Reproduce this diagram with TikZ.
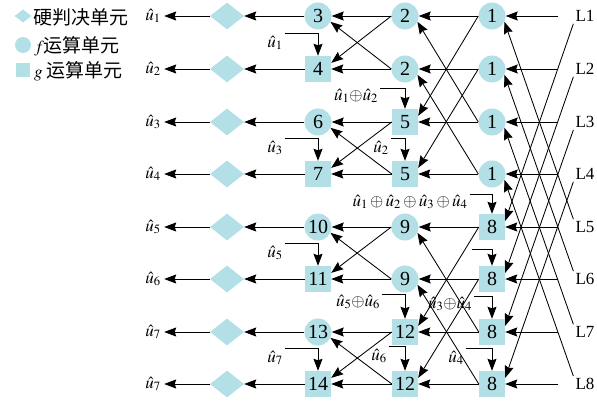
\documentclass[tikz,border=0pt]{standalone}
\usepackage{mathptmx}
\usepackage{fontspec}
\setmainfont{Liberation Serif}
\newfontfamily\cjk{Noto Sans CJK SC}
\usetikzlibrary{shapes.geometric,arrows.meta}

\definecolor{unitFill}{RGB}{178,224,230}

\begin{document}
\begin{tikzpicture}[
    x=1pt, y=-1pt,
    font=\fontsize{17pt}{19pt}\selectfont,
    >={Stealth[length=12pt,width=9pt,inset=1.5pt]},
    hardUnit/.style={
        diamond,
        fill=unitFill,
        inner sep=0pt,
        minimum width=34pt,
        minimum height=27pt
    },
    fUnit/.style={
        circle,
        fill=unitFill,
        inner sep=0pt,
        minimum size=27pt,
        font=\fontsize{20pt}{22pt}\selectfont
    },
    gUnit/.style={
        rectangle,
        fill=unitFill,
        inner sep=0pt,
        minimum size=26pt,
        font=\fontsize{20pt}{22pt}\selectfont
    },
    flowLine/.style={
        line width=0.85pt,
        draw=black,
        ->
    },
    fbLabel/.style={
        inner sep=2pt
    },
    inLabel/.style={
        inner sep=2pt
    }
]
\useasboundingbox (0,0) rectangle (597,401);

% ==================== LEGEND ====================
\node[hardUnit, minimum width=17pt, minimum height=13pt] (legHard) at (23,16) {};
\node[anchor=west, inner sep=0pt, font=\cjk\fontsize{19pt}{21pt}\selectfont] (legHardText) at (33,17) {硬判决单元};
\node[fUnit, minimum size=16pt] (legF) at (23,45) {};
\node[anchor=west, inner sep=0pt] (legFText) at (34,46) {$f$\cjk\fontsize{19pt}{21pt}\selectfont 运算单元};
\node[gUnit, minimum size=14pt] (legG) at (23,70) {};
\node[anchor=west, inner sep=0pt] (legGText) at (34,71) {$g$ \cjk\fontsize{19pt}{21pt}\selectfont 运算单元};

% ==================== OUTPUTS & HARD DECISION ====================
\node (outLabel1) at (153,16) {$\hat{u}_1$};
\node (outLabel2) at (153,69) {$\hat{u}_2$};
\node (outLabel3) at (153,122) {$\hat{u}_3$};
\node (outLabel4) at (153,174) {$\hat{u}_4$};
\node (outLabel5) at (153,227) {$\hat{u}_5$};
\node (outLabel6) at (153,279) {$\hat{u}_6$};
\node (outLabel7) at (153,332) {$\hat{u}_7$};
\node (outLabel8) at (153,384) {$\hat{u}_7$};

\node[hardUnit] (hardDec1) at (227,16) {};
\node[hardUnit] (hardDec2) at (227,69) {};
\node[hardUnit] (hardDec3) at (227,122) {};
\node[hardUnit] (hardDec4) at (227,174) {};
\node[hardUnit] (hardDec5) at (227,227) {};
\node[hardUnit] (hardDec6) at (227,279) {};
\node[hardUnit] (hardDec7) at (227,332) {};
\node[hardUnit] (hardDec8) at (227,384) {};

% ==================== STAGE 1 ====================
\node[fUnit] (stageOne1) at (318,16) {3};
\node[gUnit] (stageOne2) at (318,69) {4};
\node[fUnit] (stageOne3) at (318,122) {6};
\node[gUnit] (stageOne4) at (318,174) {7};
\node[fUnit] (stageOne5) at (318,227) {10};
\node[gUnit] (stageOne6) at (318,279) {11};
\node[fUnit] (stageOne7) at (318,332) {13};
\node[gUnit] (stageOne8) at (318,384) {14};

% ==================== STAGE 2 ====================
\node[fUnit] (stageTwo1) at (405,16) {2};
\node[fUnit] (stageTwo2) at (405,69) {2};
\node[gUnit] (stageTwo3) at (405,122) {5};
\node[gUnit] (stageTwo4) at (405,174) {5};
\node[fUnit] (stageTwo5) at (405,227) {9};
\node[fUnit] (stageTwo6) at (405,279) {9};
\node[gUnit] (stageTwo7) at (405,332) {12};
\node[gUnit] (stageTwo8) at (405,384) {12};

% ==================== STAGE 3 ====================
\node[fUnit] (stageThree1) at (492,16) {1};
\node[fUnit] (stageThree2) at (492,69) {1};
\node[fUnit] (stageThree3) at (492,122) {1};
\node[fUnit] (stageThree4) at (492,174) {1};
\node[gUnit] (stageThree5) at (492,227) {8};
\node[gUnit] (stageThree6) at (492,279) {8};
\node[gUnit] (stageThree7) at (492,332) {8};
\node[gUnit] (stageThree8) at (492,384) {8};

% ==================== CHANNEL LLR INPUTS ====================
\node[inLabel] (inLabel1) at (585,16) {L1};
\node[inLabel] (inLabel2) at (585,69) {L2};
\node[inLabel] (inLabel3) at (585,122) {L3};
\node[inLabel] (inLabel4) at (585,174) {L4};
\node[inLabel] (inLabel5) at (585,227) {L5};
\node[inLabel] (inLabel6) at (585,279) {L6};
\node[inLabel] (inLabel7) at (585,332) {L7};
\node[inLabel] (inLabel8) at (585,384) {L8};

% ==================== PARTIAL SUM LABELS ====================
\node[fbLabel] (fbLabel2) at (275,43) {$\hat{u}_1$};
\node[fbLabel] (fbLabel4) at (275,148) {$\hat{u}_3$};
\node[fbLabel] (fbLabel6) at (275,253) {$\hat{u}_5$};
\node[fbLabel] (fbLabel8) at (275,358) {$\hat{u}_7$};
\node[fbLabel] (fbLabelA) at (356,96) {$\hat{u}_1{\oplus}\hat{u}_2$};
\node[fbLabel] (fbLabelB) at (381,148) {$\hat{u}_2$};
\node[fbLabel] (fbLabelC) at (358,302) {$\hat{u}_5{\oplus}\hat{u}_6$};
\node[fbLabel] (fbLabelD) at (379,356) {$\hat{u}_6$};
\node[fbLabel] (fbLabelE) at (410,202) {$\hat{u}_1\oplus\hat{u}_2\oplus\hat{u}_3\oplus\hat{u}_4$};
\node[fbLabel] (fbLabelG) at (450,304) {$\hat{u}_3{\oplus}\hat{u}_4$};
\node[fbLabel] (fbLabelH) at (456,358) {$\hat{u}_4$};
\coordinate (fbStartF) at (472,249);

% ==================== CONNECTIONS ====================
% hard decisions
\draw[flowLine] (stageOne1) -- (hardDec1);
\draw[flowLine] (stageOne2) -- (hardDec2);
\draw[flowLine] (stageOne3) -- (hardDec3);
\draw[flowLine] (stageOne4) -- (hardDec4);
\draw[flowLine] (stageOne5) -- (hardDec5);
\draw[flowLine] (stageOne6) -- (hardDec6);
\draw[flowLine] (stageOne7) -- (hardDec7);
\draw[flowLine] (stageOne8) -- (hardDec8);
\draw[flowLine] (hardDec1) -- (outLabel1);
\draw[flowLine] (hardDec2) -- (outLabel2);
\draw[flowLine] (hardDec3) -- (outLabel3);
\draw[flowLine] (hardDec4) -- (outLabel4);
\draw[flowLine] (hardDec5) -- (outLabel5);
\draw[flowLine] (hardDec6) -- (outLabel6);
\draw[flowLine] (hardDec7) -- (outLabel7);
\draw[flowLine] (hardDec8) -- (outLabel8);

% stage 2 -> stage 1
\draw[flowLine] (stageTwo1) -- (stageOne1);
\draw[flowLine] (stageTwo1.west) -- (stageOne2.25);
\draw[flowLine] (stageTwo2) -- (stageOne2);
\draw[flowLine] (stageTwo2.west) -- (stageOne1.-25);
\draw[flowLine] (stageTwo3) -- (stageOne3);
\draw[flowLine] (stageTwo3.west) -- (stageOne4.25);
\draw[flowLine] (stageTwo4) -- (stageOne4);
\draw[flowLine] (stageTwo4.west) -- (stageOne3.-25);
\draw[flowLine] (stageTwo5) -- (stageOne5);
\draw[flowLine] (stageTwo5.west) -- (stageOne6.25);
\draw[flowLine] (stageTwo6) -- (stageOne6);
\draw[flowLine] (stageTwo6.west) -- (stageOne5.-25);
\draw[flowLine] (stageTwo7) -- (stageOne7);
\draw[flowLine] (stageTwo7.west) -- (stageOne8.25);
\draw[flowLine] (stageTwo8) -- (stageOne8);
\draw[flowLine] (stageTwo8.west) -- (stageOne7.-25);

% stage 3 -> stage 2
\draw[flowLine] (stageThree1) -- (stageTwo1);
\draw[flowLine] (stageThree1.west) -- (stageTwo3.25);
\draw[flowLine] (stageThree2) -- (stageTwo2);
\draw[flowLine] (stageThree2.west) -- (stageTwo4.25);
\draw[flowLine] (stageThree3) -- (stageTwo3);
\draw[flowLine] (stageThree3.west) -- (stageTwo1.-25);
\draw[flowLine] (stageThree4) -- (stageTwo4);
\draw[flowLine] (stageThree4.west) -- (stageTwo2.-25);
\draw[flowLine] (stageThree5) -- (stageTwo5);
\draw[flowLine] (stageThree5.west) -- (stageTwo7.25);
\draw[flowLine] (stageThree6) -- (stageTwo6);
\draw[flowLine] (stageThree6.west) -- (stageTwo8.25);
\draw[flowLine] (stageThree7) -- (stageTwo7);
\draw[flowLine] (stageThree7.west) -- (stageTwo5.-25);
\draw[flowLine] (stageThree8) -- (stageTwo8);
\draw[flowLine] (stageThree8.west) -- (stageTwo6.-25);

% inputs -> stage 3
\draw[flowLine] ([xshift=-15pt]inLabel1.west) -- (stageThree1);
\draw[flowLine] ([xshift=-15pt]inLabel2.west) -- (stageThree2);
\draw[flowLine] ([xshift=-15pt]inLabel3.west) -- (stageThree3);
\draw[flowLine] ([xshift=-15pt]inLabel4.west) -- (stageThree4);
\draw[flowLine] ([xshift=-15pt]inLabel5.west) -- (stageThree5);
\draw[flowLine] ([xshift=-15pt]inLabel6.west) -- (stageThree6);
\draw[flowLine] ([xshift=-15pt]inLabel7.west) -- (stageThree7);
\draw[flowLine] ([xshift=-15pt]inLabel8.west) -- (stageThree8);
\draw[flowLine] (inLabel1.south west) -- (stageThree5.25);
\draw[flowLine] (inLabel2.south west) -- (stageThree6.25);
\draw[flowLine] (inLabel3.south west) -- (stageThree7.25);
\draw[flowLine] (inLabel4.south west) -- (stageThree8.25);
\draw[flowLine] (inLabel5.north west) -- (stageThree1.-25);
\draw[flowLine] (inLabel6.north west) -- (stageThree2.-25);
\draw[flowLine] (inLabel7.north west) -- (stageThree3.-25);
\draw[flowLine] (inLabel8.north west) -- (stageThree4.-25);

% partial sums
\draw[flowLine] (fbLabel2.north east) -| (stageOne2.north);
\draw[flowLine] (fbLabel4.north east) -| (stageOne4.north);
\draw[flowLine] (fbLabel6.north east) -| (stageOne6.north);
\draw[flowLine] (fbLabel8.north east) -| (stageOne8.north);
\draw[flowLine] ([yshift=-2pt]fbLabelA.north east) -| (stageTwo3.north);
\draw[flowLine] (fbLabelB.north east) -| (stageTwo4.north);
\draw[flowLine] ([yshift=-2pt]fbLabelC.north east) -| (stageTwo7.north);
\draw[flowLine] (fbLabelD.north east) -| (stageTwo8.north);
\draw[flowLine] ([yshift=-2pt]fbLabelE.north east) -| (stageThree5.north);
\draw[flowLine] (fbStartF) -| (stageThree6.north);
\draw[flowLine] ([yshift=-2pt]fbLabelG.north east) -| (stageThree7.north);
\draw[flowLine] (fbLabelH.north east) -| (stageThree8.north);

\end{tikzpicture}
\end{document}
